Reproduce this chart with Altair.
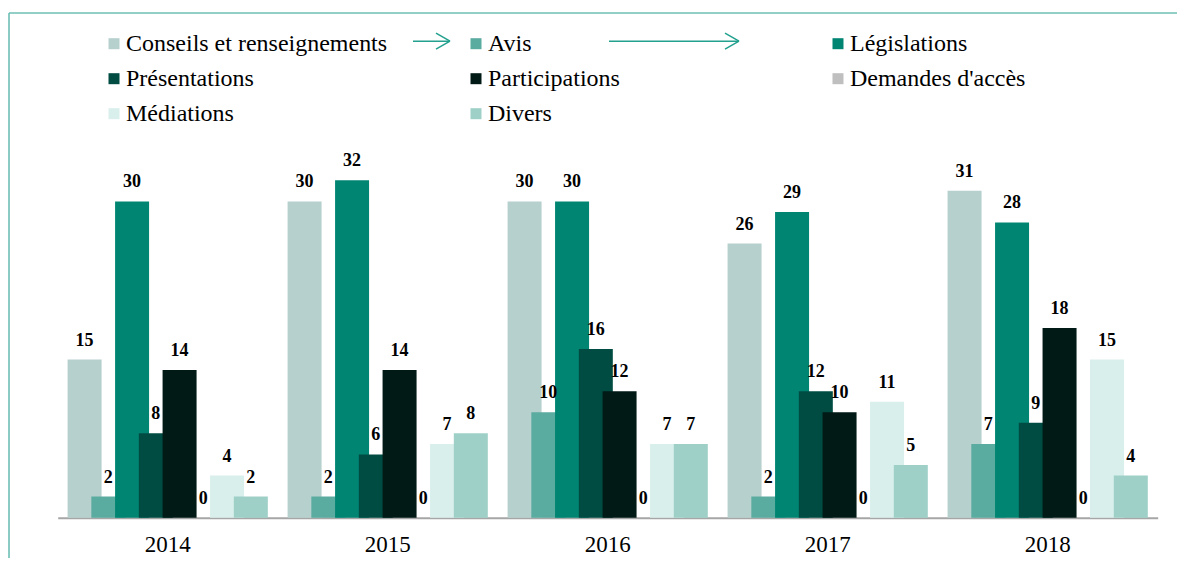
import altair as alt
import pandas as pd

years = ["2014", "2015", "2016", "2017", "2018"]
series = ["Conseils et renseignements", "Avis", "Législations", "Présentations",
          "Participations", "Demandes d'accès", "Médiations", "Divers"]
colors = ["#b6d0cd", "#5aaba0", "#008573", "#004c43", "#011a16", "#bfbfbf", "#d9efec", "#9ed0c8"]

conseils = [15, 30, 30, 26, 31]
avis = [2, 2, 10, 2, 7]
legislations = [30, 32, 30, 29, 28]
presentations = [8, 6, 16, 12, 9]
participations = [14, 14, 12, 10, 18]
demandes = [0, 0, 0, 0, 0]
mediations = [4, 7, 7, 11, 15]
divers = [2, 8, 7, 5, 4]

values = [conseils, avis, legislations, presentations, participations, demandes, mediations, divers]

rows = []
for s, vals in zip(series, values):
    for y, v in zip(years, vals):
        rows.append({"year": y, "series": s, "value": v})
df = pd.DataFrame(rows)

SERIF = "Liberation Serif"

base = alt.Chart(df).encode(
    x=alt.X("year:N", sort=years, title=None,
            scale=alt.Scale(paddingInner=0, paddingOuter=0),
            axis=alt.Axis(labelFont=SERIF, labelFontSize=23, labelColor="#000000",
                          labelAngle=0, ticks=False, labelPadding=16,
                          domainColor="#a6a6a6", domainWidth=2, grid=False)),
    xOffset=alt.XOffset("series:N", sort=series,
                        scale=alt.Scale(paddingInner=0, paddingOuter=0.632)),
    y=alt.Y("value:Q", scale=alt.Scale(domain=[0, 35]), axis=None),
)

bars = base.mark_bar(width=34).encode(
    color=alt.Color("series:N", sort=series,
                    scale=alt.Scale(domain=series, range=colors),
                    legend=alt.Legend(orient="none", legendX=44.3, legendY=-117,
                                      direction="horizontal",
                                      columns=3, gridAlign="all", title=None,
                                      symbolType="square", symbolSize=121,
                                      symbolStrokeWidth=0, labelFont=SERIF,
                                      labelFontSize=24, labelColor="#000000",
                                      labelOffset=0, labelLimit=400,
                                      columnPadding=76, rowPadding=11, padding=0))
)

labels = base.mark_text(font=SERIF, fontWeight="bold", fontSize=18,
                        baseline="alphabetic", dy=-14, color="#000000").encode(
    text=alt.Text("value:Q")
)

one = pd.DataFrame({"k": [0]})

def seg(x1, y1, x2, y2, color, w):
    return alt.Chart(one).mark_rule(color=color, strokeWidth=w).encode(
        x=alt.value(x1), x2=alt.value(x2), y=alt.value(y1), y2=alt.value(y2))

FR = "#6dbfb5"
AR = "#23a08e"
frame_top = seg(-48.7, -135.7, 1125, -135.7, FR, 1.6)
frame_left = seg(-48.7, -135.7, -48.7, 410, FR, 1.6)

def arrow(xa, xb, y):
    return [seg(xa, y, xb, y, AR, 1.5),
            seg(xb - 14, y - 8, xb, y, AR, 1.5),
            seg(xb - 14, y + 8, xb, y, AR, 1.5)]

deco = [frame_top, frame_left] + arrow(355.3, 392.3, -107.5) + arrow(551.3, 681.3, -107.5)

chart = alt.layer(bars, labels, *deco).properties(
    width=1100, height=369,
    autosize=alt.AutoSizeParams(type="none"),
    padding={"left": 49.7, "top": 140.7, "right": 19, "bottom": 40},
).configure_view(stroke=None)

chart.save("out.html", embed_options={"renderer": "svg", "actions": False})
